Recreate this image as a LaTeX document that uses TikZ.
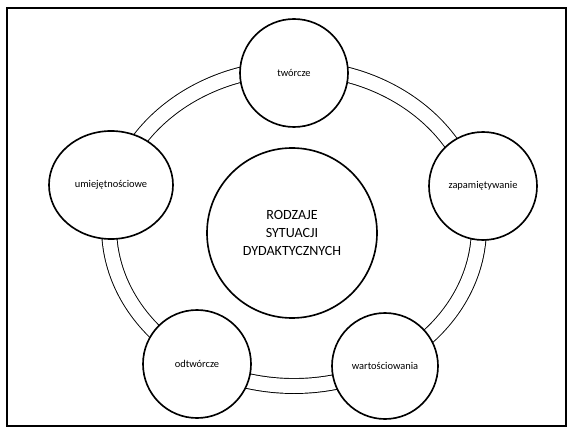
\documentclass[tikz,border=0pt]{standalone}
\usepackage{fontspec}
\setmainfont{Carlito}
\usetikzlibrary{shapes.geometric}

\begin{document}
\begin{tikzpicture}[x=0.03cm,y=-0.03cm]
	\pgfmathsetmacro{\rx}{185}	%horizontal radius of ring
	\pgfmathsetmacro{\ry}{159}	%vertical radius of ring

	\tikzset{
		sit/.style={circle,draw,line width=1.4pt,fill=white,minimum size=3.24cm,inner sep=0pt,
			font=\fontsize{8.9}{10}\selectfont},
		ringline/.style={line width=0.8pt,double,double distance=0.42cm},
	}

	\useasboundingbox (0,0) rectangle (569,430);
	\draw[line width=1.5pt] (7,8) rectangle (566,426);

	%ring behind the circles
	\coordinate (ring) at (294,227);
	\draw[ringline] (ring) ellipse [x radius=\rx, y radius=\ry];

	\node[sit] (tworcze) at (294,73) {twórcze};
	\node[sit] (zapam) at (483,186) {zapamiętywanie};
	\node[sit,minimum size=3.18cm] (wart) at (385,366) {wartościowania};
	\node[sit] (odtw) at (197,364) {odtwórcze};
	\node[sit,ellipse,minimum width=3.72cm,minimum height=3.24cm] (umiej) at (111,185) {umiejętnościowe};

	\node[sit,minimum size=5.1cm,align=center,font=\fontsize{12}{15.3}\selectfont] (rodzaje) at (292,233)
		{RODZAJE\\SYTUACJI\\DYDAKTYCZNYCH};
\end{tikzpicture}
\end{document}
